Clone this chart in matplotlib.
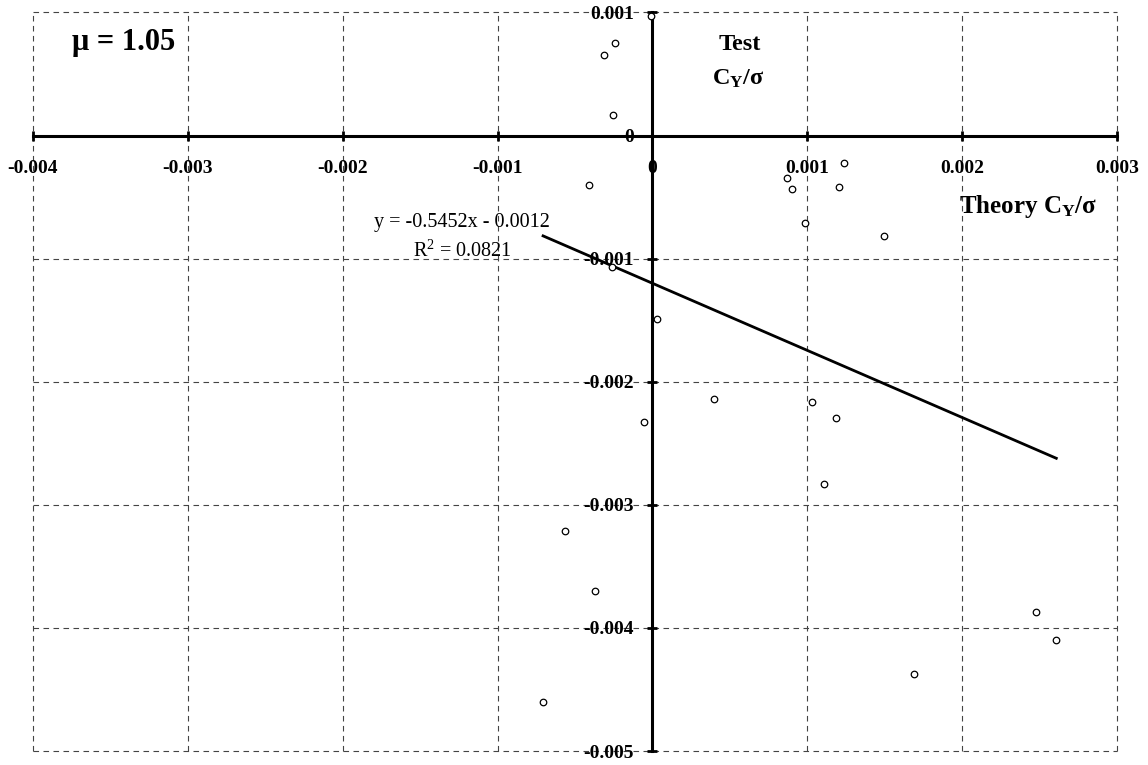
import numpy as np
import matplotlib
matplotlib.use('Agg')
import matplotlib.pyplot as plt

plt.rcParams['font.family'] = ['Liberation Serif', 'DejaVu Serif']
plt.rcParams['mathtext.fontset'] = 'custom'
plt.rcParams['mathtext.rm'] = 'Liberation Serif'
plt.rcParams['mathtext.bf'] = 'Liberation Serif:bold'
plt.rcParams['mathtext.it'] = 'Liberation Serif:italic'

# theory C_Y/sigma vs test C_Y/sigma, mu = 1.05
theory = [-0.00001, -0.00024, -0.000314, -0.000256, -0.000411, -0.000258,
          0.00087, 0.000901, 0.00124, 0.001203, 0.000983, 0.001498,
          0.00003, 0.000396, -0.000052, 0.001033, 0.001188, 0.001106,
          -0.000566, -0.000368, -0.000706,
          0.002477, 0.002608, 0.001687]
test = [0.000974, 0.000754, 0.000654, 0.000167, -0.000405, -0.001067,
        -0.000346, -0.000437, -0.000221, -0.000416, -0.000714, -0.000817,
        -0.001494, -0.002142, -0.002329, -0.002164, -0.002297, -0.002831,
        -0.00321, -0.003703, -0.004598,
        -0.003868, -0.004096, -0.004372]
slope = -0.5452
intercept = -0.0012
r2 = 0.0821

x_ticks = [-0.004, -0.003, -0.002, -0.001, 0, 0.001, 0.002, 0.003]
x_labels = ['-0.004', '-0.003', '-0.002', '-0.001', '0', '0.001', '0.002', '0.003']
y_ticks = [-0.005, -0.004, -0.003, -0.002, -0.001, 0, 0.001]
y_labels = ['-0.005', '-0.004', '-0.003', '-0.002', '-0.001', '0', '0.001']

fig = plt.figure(figsize=(11.48, 7.65), dpi=100)
ax = fig.add_axes([0.0287, 0.0183, 0.9443, 0.9654])

ax.set_xlim(-0.004, 0.003)
ax.set_ylim(-0.005, 0.001)

ax.spines['left'].set_position(('data', 0))
ax.spines['bottom'].set_position(('data', 0))
ax.spines['top'].set_visible(False)
ax.spines['right'].set_visible(False)
ax.spines['left'].set_linewidth(2.2)
ax.spines['bottom'].set_linewidth(2.2)
ax.spines['left'].set_zorder(4)
ax.spines['bottom'].set_zorder(4)

ax.set_xticks(x_ticks)
ax.set_xticklabels(x_labels, fontsize=14, fontweight='bold')
ax.set_yticks(y_ticks)
ax.set_yticklabels(y_labels, fontsize=14, fontweight='bold')
ax.tick_params(axis='x', direction='inout', length=7, width=2, pad=14)
ax.tick_params(axis='y', direction='inout', length=7, width=2, pad=10)

ax.grid(True, linestyle=(0, (5, 4)), color='#444444', linewidth=0.8)
ax.set_axisbelow(True)
for g in ax.get_xgridlines() + ax.get_ygridlines():
    g.set_clip_on(False)

ax.scatter(theory, test, s=22, facecolors='white', edgecolors='black',
           linewidths=0.9, zorder=5, clip_on=False)

xs = np.array([min(theory), max(theory)])
ax.plot(xs, slope * xs + intercept, color='black', linewidth=2, zorder=3)

ax.text(-0.00123, -0.000744, 'y = -0.5452x - 0.0012', fontsize=14.5,
        ha='center', va='baseline')
ax.text(-0.00123, -0.000988, 'R$^2$ = %.4f' % r2, fontsize=14.5,
        ha='center', va='baseline')

ax.text(-0.00375, 0.000695, 'μ = 1.05', fontsize=22, fontweight='bold',
        ha='left', va='baseline')
ax.text(0.000565, 0.000695, 'Test', fontsize=17.5, fontweight='bold',
        ha='center', va='baseline')
ax.text(0.000555, 0.00041, r'C$_{\mathbf{Y}}$/σ', fontsize=17.5, fontweight='bold',
        ha='center', va='baseline')
ax.text(0.002427, -0.00063, r'Theory C$_{\mathbf{Y}}$/σ', fontsize=18,
        fontweight='bold', ha='center', va='baseline')

fig.savefig('out.png', dpi=100)
